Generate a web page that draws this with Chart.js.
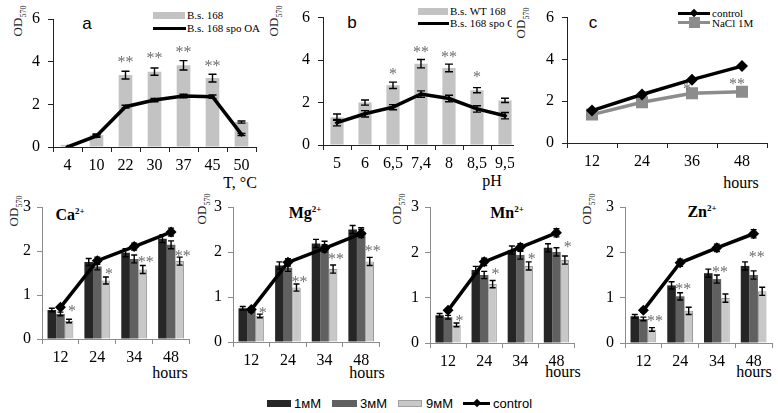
<!DOCTYPE html>
<html>
<head>
<meta charset="utf-8">
<script src="https://cdn.jsdelivr.net/npm/chart.js@4"></script>
<style>
  body { margin: 0; background: #fff; width: 778px; height: 413px; position: relative; overflow: hidden; font-family: "Liberation Serif", serif; }
  .panel { position: absolute; overflow: hidden; }
  .t { position: absolute; white-space: nowrap; transform: translate(-50%, -50%); color: #000; }
  .l { position: absolute; white-space: nowrap; transform: translateY(-50%); color: #000; }
  .od { position: absolute; white-space: nowrap; transform: translate(-50%, -50%) rotate(-90deg); font-size: 13px; color: #222; }
  .od sub { font-size: 8px; }
  .ion { font-weight: bold; font-size: 16px; }
  .ion sup { font-size: 9px; }
  .box { position: absolute; }
  .axt { font-size: 16px; }
  .leg { font-family: "Liberation Sans", sans-serif; font-size: 13px; }
</style>
</head>
<body>

<!-- panel labels, axis titles -->
<div class="t" style="left:87px;top:24px;font:17px 'Liberation Sans',sans-serif">a</div>
<div class="t" style="left:352px;top:23px;font:17px 'Liberation Sans',sans-serif">b</div>
<div class="t" style="left:593px;top:23px;font:17px 'Liberation Sans',sans-serif">c</div>

<div class="od" style="left:19px;top:21px">OD<sub>570</sub></div>
<div class="od" style="left:275px;top:21px">OD<sub>570</sub></div>
<div class="od" style="left:522px;top:23px">OD<sub>570</sub></div>
<div class="od" style="left:15px;top:211px">OD<sub>570</sub></div>
<div class="od" style="left:203px;top:209px">OD<sub>570</sub></div>
<div class="od" style="left:398px;top:209px">OD<sub>570</sub></div>
<div class="od" style="left:588px;top:209px">OD<sub>570</sub></div>

<div class="t axt" style="left:240px;top:183px">T, °C</div>
<div class="t axt" style="left:492px;top:181px">pH</div>
<div class="t axt" style="left:741px;top:183px">hours</div>
<div class="t axt" style="left:170px;top:373px">hours</div>
<div class="t axt" style="left:367px;top:373px">hours</div>
<div class="t axt" style="left:563px;top:372px">hours</div>
<div class="t axt" style="left:754px;top:372px">hours</div>

<div class="t ion" style="left:70px;top:215px">Ca<sup>2+</sup></div>
<div class="t ion" style="left:305px;top:213px">Mg<sup>2+</sup></div>
<div class="t ion" style="left:507px;top:213px">Mn<sup>2+</sup></div>
<div class="t ion" style="left:702px;top:212px">Zn<sup>2+</sup></div>

<!-- legend a -->
<div class="box" style="left:153px;top:12px;width:32px;height:7px;background:#c3c3c3"></div>
<div class="l" style="left:187px;top:15px;font-size:11px">B.s. 168</div>
<div class="box" style="left:153px;top:27px;width:33px;height:3px;background:#000"></div>
<div class="l" style="left:187px;top:28px;font-size:11px">B.s. 168 spo OA</div>
<!-- legend b -->
<div class="box" style="left:418px;top:8px;width:30px;height:7px;background:#c3c3c3"></div>
<div class="l" style="left:450px;top:11px;font-size:11px">B.s. WT 168</div>
<div class="box" style="left:418px;top:22px;width:31px;height:3px;background:#000"></div>
<div class="l" style="left:450px;top:23px;font-size:11px;width:62px;overflow:hidden">B.s. 168 spo OA</div>
<!-- legend c -->
<div class="box" style="left:678px;top:12px;width:32px;height:3px;background:#000"></div>
<div class="box" style="left:691px;top:10px;width:6px;height:6px;background:#000;transform:rotate(45deg)"></div>
<div class="l" style="left:712px;top:13px;font-size:11px">control</div>
<div class="box" style="left:678px;top:21px;width:32px;height:3px;background:#8c8c8c"></div>
<div class="box" style="left:689px;top:17px;width:11px;height:11px;background:#8c8c8c"></div>
<div class="l" style="left:712px;top:23px;font-size:11px">NaCl 1M</div>

<!-- bottom legend -->
<div class="box" style="left:267px;top:400px;width:24px;height:7px;background:#262626"></div>
<div class="l leg" style="left:294px;top:403px">1мМ</div>
<div class="box" style="left:332px;top:400px;width:25px;height:7px;background:#606060"></div>
<div class="l leg" style="left:360px;top:403px">3мМ</div>
<div class="box" style="left:398px;top:400px;width:24px;height:7px;background:#c8c8c8;box-sizing:border-box;border:1px solid #a0a0a0"></div>
<div class="l leg" style="left:426px;top:403px">9мМ</div>
<div class="box" style="left:463px;top:402px;width:27px;height:3px;background:#000"></div>
<div class="box" style="left:474px;top:400px;width:6px;height:6px;background:#000;transform:rotate(45deg)"></div>
<div class="l leg" style="left:493px;top:403px">control</div>

<script>
// ---- data: temperature (a) ----
const tempLabels = ['4', '10', '22', '30', '37', '45', '50'];
const tempWT = [0.1, 0.56, 3.37, 3.53, 3.83, 3.23, 1.17];
const tempWTErr = [0, 0.05, 0.18, 0.17, 0.22, 0.18, 0.05];
const tempSpo = [0.0, 0.52, 1.89, 2.2, 2.39, 2.36, 0.59];
const tempSpoErr = [0, 0.06, 0.07, 0.08, 0.08, 0.08, 0.05];
const tempStars = [[2, 0, 4.16, '**'], [3, 0, 4.36, '**'], [4, 0, 4.63, '**'], [5, 0, 4.0, '**']];

// ---- data: pH (b) ----
const phLabels = ['5', '6', '6,5', '7,4', '8', '8,5', '9,5'];
const phWT = [1.31, 2.0, 2.81, 3.83, 3.63, 2.58, 2.1];
const phWTErr = [0.15, 0.12, 0.15, 0.2, 0.18, 0.12, 0.1];
const phSpo = [1.05, 1.47, 1.78, 2.4, 2.19, 1.7, 1.38];
const phSpoErr = [0.15, 0.15, 0.12, 0.15, 0.15, 0.15, 0.15];
const phStars = [[2, 0, 3.55, '*'], [3, 0, 4.56, '**'], [4, 0, 4.33, '**'], [5, 0, 3.4, '*']];

// ---- data: NaCl (c) ----
const naclLabels = ['12', '24', '36', '48'];
const naclControl = [1.55, 2.32, 3.03, 3.68];
const naclControlErr = [0.05, 0.06, 0.08, 0.1];
const nacl1M = [1.36, 1.95, 2.38, 2.45];
const naclStars = [[2, 1, 2.78, '*'], [3, 1, 3.03, '**']];

// ---- data: ions (bottom row) ----
const hourLabels = ['12', '24', '34', '48'];
const ca1 = [0.66, 1.75, 1.96, 2.28];
const ca3 = [0.57, 1.65, 1.82, 2.14];
const ca9 = [0.41, 1.33, 1.58, 1.77];
const caCtrl = [0.72, 1.78, 2.1, 2.43];
const caStars = [[0, 2, 0.72, '*'], [1, 2, 1.57, '*'], [2, 2, 1.84, '**'], [3, 2, 1.98, '**']];

const mg1 = [0.75, 1.7, 2.19, 2.5];
const mg3 = [0.7, 1.65, 2.15, 2.45];
const mg9 = [0.58, 1.21, 1.62, 1.79];
const mgCtrl = [0.72, 1.77, 2.08, 2.41];
const mgStars = [[0, 2, 0.73, '*'], [1, 2, 1.42, '**'], [2, 2, 1.93, '**'], [3, 2, 2.11, '**']];

const mn1 = [0.61, 1.61, 2.05, 2.1];
const mn3 = [0.57, 1.5, 1.94, 2.01];
const mn9 = [0.4, 1.3, 1.7, 1.83];
const mnCtrl = [0.72, 1.79, 2.11, 2.43];
const mnStars = [[0, 2, 0.57, '*'], [1, 2, 1.61, '*'], [2, 2, 1.94, '*'], [3, 2, 2.2, '*']];

const zn1 = [0.59, 1.27, 1.54, 1.7];
const zn3 = [0.53, 1.03, 1.41, 1.5];
const zn9 = [0.3, 0.71, 0.99, 1.14];
const znCtrl = [0.72, 1.77, 2.1, 2.41];
const znStars = [[0, 2, 0.57, '**'], [1, 1, 1.28, '**'], [2, 1, 1.65, '**'], [3, 1, 1.98, '**']];

const barErrSmall = [0.04, 0.08, 0.09, 0.09];
const ctrlErr = [0.04, 0.08, 0.08, 0.09];

// --- error bars, drawn from each dataset's err array ---
const errPlugin = {
  id: 'errbars',
  afterDatasetsDraw(chart) {
    const ctx = chart.ctx, y = chart.scales.y;
    chart.data.datasets.forEach((ds, di) => {
      if (!ds.err) return;
      const meta = chart.getDatasetMeta(di);
      ctx.save();
      ctx.strokeStyle = '#000';
      ctx.lineWidth = 1.4;
      meta.data.forEach((el, i) => {
        const e = ds.err[i];
        if (!e) return;
        const v = ds.data[i];
        const top = y.getPixelForValue(v + e), bot = y.getPixelForValue(v - e), w = ds.cap || 4;
        ctx.beginPath();
        ctx.moveTo(el.x, top); ctx.lineTo(el.x, bot);
        ctx.moveTo(el.x - w, top); ctx.lineTo(el.x + w, top);
        ctx.moveTo(el.x - w, bot); ctx.lineTo(el.x + w, bot);
        ctx.stroke();
      });
      ctx.restore();
    });
  }
};

// --- significance asterisks ---
const starPlugin = {
  id: 'stars',
  afterDatasetsDraw(chart, args, opts) {
    if (!opts.items) return;
    const ctx = chart.ctx, y = chart.scales.y;
    ctx.save();
    ctx.fillStyle = '#6e6e6e';
    ctx.font = '16px "Liberation Serif", serif';
    ctx.textAlign = 'center';
    ctx.textBaseline = 'alphabetic';
    opts.items.forEach(([i, ds, val, txt]) => {
      const el = chart.getDatasetMeta(ds).data[i];
      ctx.fillText(txt, el.x + (opts.dx || 0), y.getPixelForValue(val) + 9);
    });
    ctx.restore();
  }
};

const tickFont = { family: '"Liberation Serif", serif', size: 16 };

function makeChart(box, area, type, labels, datasets, yMax, yStep, style) {
  const wrap = document.createElement('div');
  wrap.className = 'panel';
  wrap.style.left = box.l + 'px';
  wrap.style.top = box.t + 'px';
  wrap.style.width = box.w + 'px';
  wrap.style.height = box.h + 'px';
  const cw = Math.max(box.w, area.r - box.l + 2);
  const canvas = document.createElement('canvas');
  canvas.width = cw;
  canvas.height = box.h;
  canvas.style.width = cw + 'px';
  canvas.style.height = box.h + 'px';
  wrap.appendChild(canvas);
  document.body.appendChild(wrap);

  return new Chart(canvas, {
    type: type,
    data: { labels: labels, datasets: datasets },
    plugins: [errPlugin, starPlugin],
    options: {
      responsive: false,
      animation: false,
      devicePixelRatio: 1,
      layout: { padding: { left: 0, top: area.t - box.t, right: cw - (area.r - box.l), bottom: 0 } },
      scales: {
        x: {
          type: 'category',
          offset: true,
          grid: { display: true, drawOnChartArea: false, offset: true, tickLength: 5, color: style.axis, lineWidth: 1 },
          border: { color: style.axis, width: 1 },
          ticks: { font: tickFont, color: '#000', padding: 4, maxRotation: 0, autoSkip: false },
          afterFit: s => { s.height = box.t + box.h - area.b; }
        },
        y: {
          min: 0,
          max: yMax,
          grid: { drawOnChartArea: false, tickLength: 5, color: style.axis, lineWidth: 1 },
          border: { color: style.axis, width: 1 },
          ticks: { stepSize: yStep, font: tickFont, color: '#000', padding: style.yPad },
          afterFit: s => { s.width = area.l - box.l; }
        }
      },
      plugins: {
        legend: { display: false },
        tooltip: { enabled: false },
        stars: { items: style.stars, dx: style.starDx }
      }
    }
  });
}

// panel a
makeChart({ l: 0, t: 0, w: 260, h: 190 }, { l: 53, t: 19, r: 257, b: 147 }, 'bar', tempLabels, [
  { type: 'bar', data: tempWT, err: tempWTErr, cap: 4, backgroundColor: '#c3c3c3', barPercentage: 1, categoryPercentage: 0.47, order: 1 },
  { type: 'line', data: tempSpo, err: tempSpoErr, cap: 4, borderColor: '#000', borderWidth: 3.5, pointStyle: 'rectRot', pointRadius: 2.5, pointBackgroundColor: '#000', pointBorderWidth: 0, order: 0 }
], 6, 2, { axis: '#222', yPad: 8, stars: tempStars, starDx: 0 });

// panel b
makeChart({ l: 255, t: 0, w: 259, h: 190 }, { l: 323, t: 16, r: 521, b: 145 }, 'bar', phLabels, [
  { type: 'bar', data: phWT, err: phWTErr, cap: 4, backgroundColor: '#c3c3c3', barPercentage: 1, categoryPercentage: 0.47, order: 1 },
  { type: 'line', data: phSpo, err: phSpoErr, cap: 4, borderColor: '#000', borderWidth: 3.5, pointStyle: 'rectRot', pointRadius: 2.5, pointBackgroundColor: '#000', pointBorderWidth: 0, order: 0 }
], 6, 2, { axis: '#222', yPad: 8, stars: phStars, starDx: 0 });

// panel c
makeChart({ l: 510, t: 0, w: 268, h: 190 }, { l: 567, t: 13, r: 767, b: 143 }, 'line', naclLabels, [
  { data: naclControl, err: naclControlErr, cap: 3, borderColor: '#000', borderWidth: 3.5, pointStyle: 'rectRot', pointRadius: 6, pointBackgroundColor: '#000', pointBorderWidth: 0, order: 0 },
  { data: nacl1M, borderColor: '#8c8c8c', borderWidth: 3.5, pointStyle: 'rect', pointRadius: 8.5, pointBackgroundColor: '#8c8c8c', pointBorderWidth: 0, order: 1 }
], 6, 2, { axis: '#222', yPad: 8, stars: naclStars, starDx: -5 });

// bottom row, one chart per ion
function ionChart(box, area, d1, d3, d9, ctrl, stars) {
  const bar = (data, color, border) => ({
    type: 'bar', data: data, err: barErrSmall, cap: 3, backgroundColor: color,
    borderColor: border || color, borderWidth: border ? 1 : 0,
    barPercentage: 1, categoryPercentage: 0.7, order: 1
  });
  return makeChart(box, area, 'bar', hourLabels, [
    bar(d1, '#262626'),
    bar(d3, '#606060'),
    bar(d9, '#c8c8c8', '#9a9a9a'),
    { type: 'line', data: ctrl, err: ctrlErr, cap: 3, borderColor: '#000', borderWidth: 3.5, pointStyle: 'rectRot', pointRadius: 5.5, pointBackgroundColor: '#000', pointBorderWidth: 0, order: 0 }
  ], 3, 1, { axis: '#8c8c8c', yPad: 6, stars: stars, starDx: 3 });
}

ionChart({ l: 0, t: 190, w: 195, h: 205 }, { l: 42, t: 207, r: 193, b: 339 }, ca1, ca3, ca9, caCtrl, caStars);
ionChart({ l: 190, t: 190, w: 195, h: 205 }, { l: 233, t: 207, r: 380, b: 342 }, mg1, mg3, mg9, mgCtrl, mgStars);
ionChart({ l: 385, t: 190, w: 195, h: 205 }, { l: 430, t: 207, r: 578, b: 343 }, mn1, mn3, mn9, mnCtrl, mnStars);
ionChart({ l: 580, t: 190, w: 198, h: 205 }, { l: 625, t: 207, r: 772, b: 343 }, zn1, zn3, zn9, znCtrl, znStars);
</script>
</body>
</html>
